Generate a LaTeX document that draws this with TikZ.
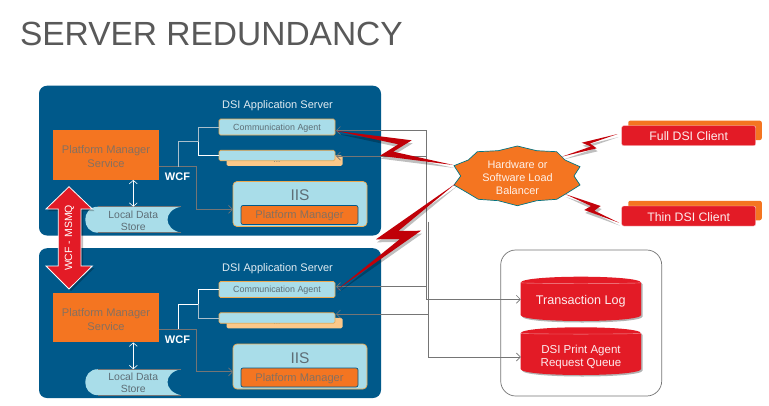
\documentclass[tikz,border=0pt]{standalone}
\usepackage{fontspec}
\setmainfont{Liberation Sans}
\usetikzlibrary{arrows.meta,shadows,calc}
\definecolor{panelblue}{HTML}{00598A}
\definecolor{lightblue}{HTML}{A9DDE9}
\definecolor{boxorange}{HTML}{F47521}
\definecolor{paleorange}{HTML}{FCC889}
\definecolor{edgeorange}{HTML}{EDA94F}
\definecolor{brandred}{HTML}{E31B26}
\definecolor{boltred}{HTML}{C00008}
\definecolor{linegrey}{HTML}{757575}
\definecolor{titlegrey}{HTML}{595959}
\definecolor{softtext}{HTML}{5E6E76}
\definecolor{softorange}{HTML}{86705F}
\definecolor{branchgrey}{HTML}{A9BFCC}
\tikzset{
  x=1pt,y=-1pt,
  every node/.style={inner sep=0pt,outer sep=0pt,align=center},
  panel/.style={fill=panelblue,rounded corners=8pt},
  pmsbox/.style={fill=boxorange,minimum width=106pt,minimum height=49.5pt},
  pmstext/.style={text=softorange,font=\fontsize{11.1}{14}\selectfont},
  agentbox/.style={fill=lightblue,draw=edgeorange,line width=.7pt,rounded corners=1.5pt,minimum width=116pt},
  backbox/.style={fill=paleorange,rounded corners=1.5pt,minimum width=116pt},
  iisbox/.style={fill=lightblue,draw=edgeorange,line width=.7pt,rounded corners=4pt,minimum width=134pt,minimum height=45pt},
  pmbox/.style={fill=boxorange,draw=panelblue,line width=.7pt,rounded corners=2pt,minimum width=117pt,minimum height=19pt},
  storetext/.style={text=softtext,font=\fontsize{10.4}{12}\selectfont},
  conn/.style={draw=linegrey,line width=.75pt},
  barb/.style={-{Straight Barb[length=4pt,width=8pt,line width=.7pt]}},
  bolt/.style={fill=boltred,drop shadow={shadow xshift=1pt,shadow yshift=-3pt,opacity=.25,fill=black}},
  client/.style={fill=brandred,draw=white!80!brandred,line width=.4pt,rounded corners=2pt,text=white!92!brandred,font=\fontsize{12.3}{14}\selectfont,minimum width=134pt,minimum height=20pt},
  clientback/.style={fill=boxorange,rounded corners=2pt,minimum width=133.5pt,minimum height=19.5pt},
  dbtext/.style={text=white!92!brandred,minimum width=120pt},
}
\begin{document}
\begin{tikzpicture}
\useasboundingbox (0,0) rectangle (769,405);
\fill[white] (0,0) rectangle (769,405);

\node[anchor=base west,text=titlegrey,font=\fontsize{33.5}{36}\selectfont] (title) at (20,45) {SERVER REDUNDANCY};

% server panels
\foreach \p/\dy/\cu/\cl in {t/0/branchgrey/white,b/162.5/white/branchgrey}{
\begin{scope}[shift={(0,\dy)}]
  \fill[panel] (39,85.7) rectangle (381,235.5);
  \node[text=white!88!panelblue,font=\fontsize{11}{13}\selectfont] (\p title) at (277.5,106) {DSI Application Server};
  \node[pmsbox] (\p pms) at (106,155.2) {};
  \node[pmstext] (\p pmst) at (106,157) {Platform Manager\\Service};
  \node[backbox,minimum height=10.5pt] (\p back) at (284.5,160.5) {};
  \node[text=softtext,font=\fontsize{8}{8}\selectfont] (\p dots) at (277,162) {...};
  \node[agentbox,minimum height=16pt] (\p ca) at (277,127) {};
  \node[text=softtext,font=\fontsize{8.9}{10}\selectfont] (\p cat) at (277,128) {Communication Agent};
  \node[agentbox,minimum height=10.5pt] (\p sa) at (277,155.5) {};
  \node[iisbox] (\p iis) at (300,204) {};
  \node[text=softtext,font=\fontsize{15.5}{18}\selectfont] (\p iist) at (300,195.5) {IIS};
  \node[pmbox] (\p pm) at (299.5,215) {};
  \node[text=softorange,font=\fontsize{11.1}{14}\selectfont] (\p pmt) at (299.5,216) {Platform Manager};
  % local data store
  \fill[lightblue] (181,206.7) -- (98,206.7) .. controls (81,206.7) and (81,232.7) .. (98,232.7) -- (181,232.7)
     .. controls (163,229) and (163,210) .. (181,206.7) -- cycle;
  \draw[linegrey,line width=.6pt] (181,206.7) -- (98,206.7);
  \draw[linegrey,line width=.6pt] (181,232.7) -- (98,232.7);
  \node[storetext,minimum width=95pt,minimum height=26pt] (\p store) at (133.3,219.7) {};
  \node[storetext] (\p storet) at (133.3,220.5) {Local Data\\Store};
  \draw[white,line width=.6pt,{Straight Barb[length=3.5pt,width=8pt]}-{Straight Barb[length=3.5pt,width=8pt]}]
     (\p store.north) -- (\p store.north |- \p pms.south);
  % WCF links
  \coordinate (\p elbow) at (196,166.7);
  \coordinate (\p pmsport) at (\p pms.east |- \p elbow);
  \coordinate (\p iisport) at (\p iis.west |- 0,209.3);
  \draw[conn,line width=.7pt,barb] (\p pmsport) -- (\p elbow) |- (\p iisport);
  \coordinate (\p wcf) at (178.3,166.7);
  \coordinate (\p fork) at (198.3,141.7);
  \draw[\cu,line width=.9pt] (\p wcf) |- (\p fork) |- (\p ca.west);
  \draw[\cl,line width=.9pt] (\p fork) |- (\p sa.west);
  \node[text=white,font=\bfseries\fontsize{11}{13}\selectfont] (\p wcft) at (177.5,177) {WCF};
\end{scope}}

% load balancer
\filldraw[fill=boxorange,draw=teal!70!panelblue,line width=.7pt]
 (517.3,146) -- (536.7,150.7) -- (556.7,151.7) -- (565,160) -- (580,166.7) -- (574,176) -- (580,185)
 -- (566.7,193.3) -- (556.7,199.3) -- (536.7,200.7) -- (517.3,205.7) -- (498.3,200.7) -- (478.3,199.3)
 -- (468.3,193.3) -- (454,185) -- (460.7,176) -- (454,165.7) -- (468.3,160) -- (477.3,151.7) -- (498.3,150.7) -- cycle;
\node[text=white!90!boxorange,font=\fontsize{10.9}{13.4}\selectfont] (lb) at (517.5,177.5) {Hardware or\\Software Load\\Balancer};

% clients
\node[clientback] (fullb) at (695,130.4) {};
\node[client] (full) at (688.7,135.7) {};
\node[text=white!92!brandred,font=\fontsize{12.3}{14}\selectfont] (fullt) at (688.7,136.5) {Full DSI Client};
\node[clientback] (thinb) at (695,210.5) {};
\node[client] (thin) at (688.7,216) {};
\node[text=white!92!brandred,font=\fontsize{12.3}{14}\selectfont] (thint) at (688.7,216.8) {Thin DSI Client};

% storage
\draw[linegrey,line width=.7pt,rounded corners=15pt] (500.7,250) rectangle (661.7,396);
\foreach \n/\ty/\by in {txlog/282.7/315,queue/333.3/369}{
  \fill[brandred,drop shadow={shadow xshift=1.5pt,shadow yshift=-1.5pt,opacity=.3,fill=black}]
    (520.7,\ty) .. controls (520.7,\ty-8) and (641,\ty-8) .. (641,\ty)
    -- (641,\by) .. controls (641,\by+8) and (520.7,\by+8) .. (520.7,\by) -- cycle;
  \draw[white!55!brandred,line width=.4pt] (520.7,\ty) .. controls (520.7,\ty+1) and (641,\ty+1) .. (641,\ty);
}
\node[minimum width=120pt,minimum height=44pt] (txlog) at (580.8,299) {};
\node[dbtext,font=\fontsize{12.6}{15}\selectfont] (txlogt) at (580.8,301.5) {Transaction Log};
\node[minimum width=120pt,minimum height=48pt] (queue) at (580.8,351) {};
\node[dbtext,font=\fontsize{11.5}{13.4}\selectfont] (queuet) at (581,357) {DSI Print Agent\\Request Queue};

% backbone connectors
\coordinate (busa) at (426.6,299.3);
\coordinate (busb) at (428.7,357);
\coordinate (busbtop) at (428.7,221.5);
\coordinate (tcaport) at (336,130.5);
\coordinate (tsaport) at (336,156);
\coordinate (bcaport) at (336,286.7);
\coordinate (bsaport) at (336,314);
\draw[conn,barb] (tcaport -| busa) -- (tcaport);
\draw[conn,barb] (tsaport -| busa) -- (tsaport);
\draw[conn,barb] (bcaport -| busa) -- (bcaport);
\draw[conn,barb] (bsaport -| busb) -- (bsaport);
\draw[conn,barb] (tcaport -| busa) -- (busa) -- (txlog.west |- busa);
\draw[conn,barb] (busbtop) -- (busb) -- (queue.west |- busb);

% lightning bolts
\fill[bolt] (335,130.7) -- (411.7,140.3) -- (393.3,151.7) -- (453.3,165) -- (380,155.7) -- (398.3,144.3) -- cycle;
\fill[bolt] (456,183.3) -- (376,239.3) -- (400,239) -- (336.7,290) -- (421,230.7) -- (398.3,231) -- cycle;
\fill[bolt,fill=boltred!90!brandred] (617.7,134) -- (581.7,142.7) -- (591,146.5) -- (561.7,156.7) -- (596.7,148.3) -- (590,143.5) -- cycle;
\fill[bolt,fill=boltred!90!brandred] (565,194) -- (600.7,206) -- (594.3,210.7) -- (619,222.7) -- (584.3,210) -- (591,206) -- cycle;

% WCF-MSMQ arrow
\filldraw[fill=brandred,draw=white,line width=.8pt,drop shadow={shadow xshift=2pt,shadow yshift=-2pt,opacity=.25,fill=black}]
 (69,186.7) -- (92.3,209) -- (81,209) -- (81,266) -- (92.3,266) -- (69,289) -- (46,266) -- (58.3,266) -- (58.3,209) -- (46,209) -- cycle;
\node[rotate=90,text=white,font=\fontsize{10.5}{12}\selectfont] (msmq) at (69.5,238) {WCF - MSMQ};
\end{tikzpicture}
\end{document}
